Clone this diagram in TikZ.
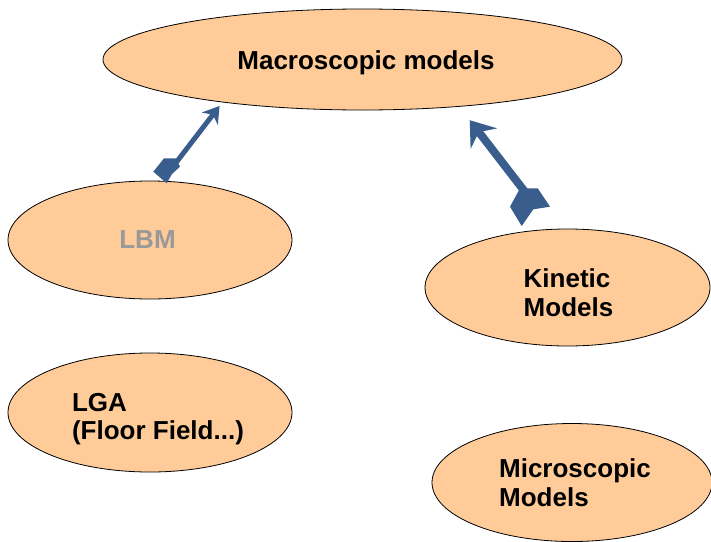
\documentclass[tikz,border=0pt]{standalone}
\usepackage{fontspec}
\setmainfont{Liberation Sans}
\usetikzlibrary{arrows.meta,shapes.geometric}
\definecolor{ellfill}{RGB}{255,204,153}
\definecolor{arrblue}{RGB}{57,93,140}
\definecolor{lbmgray}{RGB}{153,153,153}
\begin{document}
\begin{tikzpicture}[x=1pt,y=-1pt,
  blob/.style={ellipse, draw=black, line width=0.8pt, fill=ellfill, inner sep=0pt},
  txt/.style={inner sep=0pt, font=\fontsize{26}{28.6}\selectfont\bfseries, align=left},
  linkthin/.style={draw=arrblue, line width=5pt, -{Stealth[length=16pt,width=20pt,inset=5pt]}},
  linkthick/.style={draw=arrblue, line width=8pt, -{Stealth[length=23pt,width=33pt,inset=8pt]}},
  fletch/.style={fill=arrblue, draw=none}]
\useasboundingbox (0,0) rectangle (711,541);
% ellipses
\node[blob, minimum width=519pt, minimum height=101pt] (macro) at (362.5,59.5) {};
\node[blob, minimum width=284pt, minimum height=118pt] (lbm) at (150,240) {};
\node[blob, minimum width=285pt, minimum height=117pt] (kin) at (567.5,287.5) {};
\node[blob, minimum width=284pt, minimum height=119pt] (lga) at (150,412.5) {};
\node[blob, minimum width=280pt, minimum height=118pt] (micro) at (572,482.5) {};
% texts
\node[txt] (macrot) at ([shift={(3.5,3)}]macro.center) {Macroscopic models};
\node[txt, text=lbmgray] (lbmt) at ([shift={(-2.5,0)}]lbm.center) {LBM};
\node[txt] (kint) at ([shift={(1,5.5)}]kin.center) {Kinetic\\Models};
\node[txt] (lgat) at ([shift={(8,6.5)}]lga.center) {LGA\\(Floor Field...)};
\node[txt] (microt) at ([shift={(3,0)}]micro.center) {Microscopic\\Models};
% arrow LBM <-> macro
\coordinate (tipA) at ([shift={(16.7,-56.7)}]lbm.center);
\fill[fletch] (tipA) -- ++(-13.4,-11.6) -- ++(10.7,-13.4) -- ++(12,0) -- ++(4,8.4)
  -- ++(-8,7.3) -- cycle;
\draw[linkthin, shorten >=4.5pt] ([shift={(5,-15)}]tipA) -- (macro.197);
% arrow kinetic <-> macro
\coordinate (tipB) at ([shift={(-45.8,-61.5)}]kin.center);
\fill[fletch] (tipB) -- ++(-11.7,-19.3) -- ++(10,-18.4) -- ++(17.7,0) -- ++(12.3,18.4)
  -- ++(-16.7,2.6) -- cycle;
\draw[linkthick, shorten >=17pt] ([shift={(8,-28)}]tipB) -- (macro.334);
\end{tikzpicture}
\end{document}
